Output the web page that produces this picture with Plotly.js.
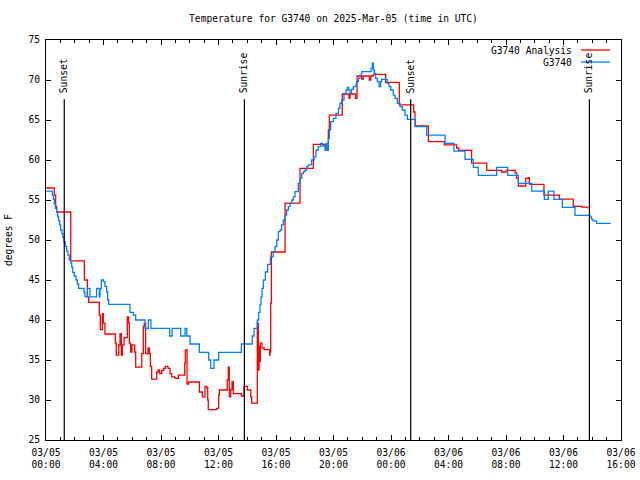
<!DOCTYPE html>
<html>
<head>
<meta charset="utf-8">
<script src="https://cdn.plot.ly/plotly-3.0.1.min.js"></script>
<style>html,body{margin:0;padding:0;background:#fff}#chart{width:640px;height:480px}</style>
</head>
<body>
<div id="chart"></div>
<script>
// Hours after 2025-03-05 00:00 UTC, and temperatures (degrees F)
const analysisHours = [0, 0.58, 0.67, 0.74, 1.72, 2.67, 2.88, 2.97, 3.71, 3.78, 3.92, 3.99, 4.10, 4.82, 4.89, 5.06, 5.15, 5.24, 5.31, 5.43, 5.66, 5.75, 5.80, 5.89, 5.98, 6.17, 6.24, 6.66, 6.77, 6.84, 6.93, 7.10, 7.19, 7.26, 7.35, 7.70, 7.81, 7.91, 8.05, 8.19, 8.30, 8.49, 8.63, 8.74, 8.97, 9.21, 9.65, 9.69, 9.81, 9.92, 10.67, 10.88, 11.06, 11.18, 11.25, 11.29, 11.87, 12.01, 12.06, 12.61, 12.68, 12.75, 12.85, 12.94, 13.03, 13.59, 13.77, 14.01, 14.24, 14.31, 14.70, 14.77, 14.82, 14.84, 14.91, 15.03, 15.17, 15.56, 15.58, 15.63, 15.68, 16.63, 17.67, 18.60, 19.53, 19.64, 19.71, 20.61, 21.08, 21.15, 21.53, 21.64, 21.96, 22.07, 22.49, 22.59, 22.77, 23.63, 24.58, 25.58, 25.67, 26.60, 27.71, 28.57, 28.70, 29.61, 30.66, 31.70, 32.00, 32.63, 32.74, 32.86, 33.37, 33.55, 33.62, 33.67, 34.64, 35.71, 36.68, 37.26, 37.68];
const analysisTemps = [56.5, 55.6, 54.2, 53.5, 47.4, 45.0, 42.9, 42.2, 40.6, 38.8, 40.8, 39.6, 38.25, 37.1, 35.6, 36.9, 38.3, 35.6, 36.9, 37.8, 40.4, 39.6, 37.1, 36.0, 36.9, 36.0, 34.1, 35.8, 39.2, 39.6, 35.8, 36.5, 35.8, 34.2, 32.6, 33.5, 33.75, 33.3, 33.7, 33.96, 34.2, 33.96, 33.3, 32.9, 32.7, 33.1, 34.6, 36.25, 32.0, 32.25, 31.0, 30.4, 31.7, 31.5, 30.0, 28.8, 28.95, 30.6, 31.25, 32.5, 34.1, 30.4, 31.3, 32.3, 30.8, 30.5, 31.7, 31.25, 30.4, 29.6, 39.6, 33.75, 36.7, 34.8, 37.1, 36.5, 36.3, 35.6, 36.0, 42.1, 48.5, 54.6, 58.96, 61.96, 61.25, 63.75, 65.6, 68.25, 67.7, 68.25, 67.7, 70.5, 70.1, 70.5, 70.0, 70.5, 70.7, 69.7, 66.9, 66.0, 64.25, 62.3, 61.9, 61.5, 61.2, 59.6, 58.7, 58.5, 58.7, 58.4, 57.7, 56.75, 57.7, 57.8, 57.1, 56.96, 55.6, 55.1, 54.2, 54.1, 53.96];

const stationHours = [0, 0.44, 0.51, 0.58, 0.65, 0.74, 0.81, 0.88, 0.95, 1.02, 1.11, 1.18, 1.25, 1.34, 1.44, 1.53, 1.62, 1.72, 1.79, 1.86, 1.97, 2.09, 2.18, 2.27, 2.64, 2.71, 2.88, 3.06, 3.52, 3.71, 3.76, 3.85, 3.99, 4.10, 4.22, 4.29, 4.36, 5.84, 6.08, 6.24, 6.89, 7.12, 7.30, 8.60, 8.77, 9.37, 9.67, 9.79, 10.02, 10.67, 11.32, 11.46, 11.69, 12.01, 13.59, 14.35, 14.47, 14.70, 14.79, 14.89, 14.96, 15.03, 15.12, 15.26, 15.42, 15.61, 15.81, 15.93, 16.05, 16.16, 16.28, 16.39, 16.51, 16.63, 16.74, 16.86, 16.97, 17.09, 17.21, 17.32, 17.55, 17.67, 17.79, 17.90, 18.02, 18.13, 18.25, 18.48, 18.64, 18.78, 18.94, 19.11, 19.25, 19.41, 19.48, 19.53, 19.64, 19.71, 19.80, 19.99, 20.17, 20.34, 20.45, 20.57, 20.73, 20.87, 20.96, 21.06, 21.15, 21.26, 21.38, 21.57, 21.61, 21.73, 21.84, 21.96, 22.61, 22.70, 22.77, 22.84, 22.93, 23.05, 23.17, 23.28, 23.35, 23.74, 23.86, 23.98, 24.16, 24.28, 24.44, 24.63, 24.79, 24.97, 25.14, 25.70, 26.48, 27.76, 28.38, 29.15, 29.73, 30.07, 31.35, 32.12, 32.86, 33.79, 34.67, 34.94, 35.34, 35.92, 36.80, 37.85, 37.95, 38.05, 38.30, 39.28];
const stationTemps = [56.1, 55.6, 55.1, 54.5, 53.96, 53.46, 52.9, 52.4, 51.9, 51.25, 50.8, 50.3, 49.8, 49.2, 48.6, 48.1, 47.5, 47.1, 46.6, 45.96, 45.5, 45.0, 44.5, 43.96, 43.46, 42.9, 43.96, 42.9, 43.96, 42.9, 43.96, 45.0, 44.8, 44.2, 43.5, 42.5, 41.96, 40.96, 40.6, 40.0, 38.96, 40.0, 38.96, 38.0, 38.96, 38.0, 38.96, 38.0, 37.0, 35.96, 35.0, 33.96, 35.0, 35.96, 37.0, 38.0, 38.96, 40.0, 40.96, 41.96, 42.9, 43.96, 45.0, 46.0, 46.96, 47.9, 48.54, 49.17, 50.0, 51.04, 51.25, 51.9, 52.5, 53.1, 53.75, 54.17, 54.58, 55.0, 55.4, 56.04, 57.08, 57.7, 58.3, 58.54, 58.75, 59.17, 59.4, 60.0, 60.4, 61.25, 61.67, 62.08, 61.75, 61.25, 62.08, 61.25, 62.7, 63.75, 64.8, 65.2, 65.8, 66.46, 67.08, 67.5, 68.33, 68.75, 69.08, 68.75, 68.33, 68.83, 69.17, 69.58, 69.8, 70.2, 70.6, 71.04, 71.46, 72.1, 71.25, 70.83, 70.2, 69.8, 69.17, 69.8, 70.08, 69.58, 69.17, 68.75, 68.1, 67.7, 67.08, 66.67, 66.25, 65.6, 65.08, 64.17, 63.1, 62.08, 61.1, 60.08, 59.08, 58.08, 59.08, 58.08, 57.08, 56.1, 55.08, 56.1, 55.08, 54.08, 53.08, 52.9, 52.6, 52.4, 52.08, 52.08];

const sunEventHours = [1.27, 13.80, 25.37, 37.80];
const sunEventLabels = ["Sunset", "Sunrise", "Sunset", "Sunrise"];
const seriesNames = ["G3740 Analysis", "G3740"];
const seriesColors = ["#ff0000", "#0080ff"];

const BASE = Date.UTC(2025, 2, 5, 0, 0, 0);
function toDate(h) {
  return new Date(BASE + Math.round(h * 3600000)).toISOString().slice(0, 19).replace('T', ' ');
}

const MONO = "DejaVu Sans Mono, monospace";
const fsz = 9.6;

const traces = [
  {x: analysisHours.map(toDate), y: analysisTemps, name: seriesNames[0], type: 'scatter', mode: 'lines',
   line: {color: seriesColors[0], width: 1.3, shape: 'hv'}},
  {x: stationHours.map(toDate), y: stationTemps, name: seriesNames[1], type: 'scatter', mode: 'lines',
   line: {color: seriesColors[1], width: 1.3, shape: 'hv'}}
];

const shapes = [];
const annotations = [];
sunEventHours.forEach((h, i) => {
  shapes.push({type: 'line', xref: 'x', yref: 'y', x0: toDate(h), x1: toDate(h), y0: 25, y1: 67.6,
    line: {color: '#000', width: 1.2}});
  annotations.push({x: toDate(h), y: 68.2, xref: 'x', yref: 'y', text: sunEventLabels[i], showarrow: false,
    textangle: -90, xanchor: 'center', yanchor: 'bottom', borderpad: 0,
    font: {family: MONO, size: fsz, color: '#000'}});
});

// legend drawn gnuplot-style: text right-aligned, sample line to its right
seriesNames.forEach((n, i) => {
  const yp = 0.975 - i * 0.03;
  annotations.push({x: 0.9165, y: yp, xref: 'paper', yref: 'paper', text: n, showarrow: false,
    xanchor: 'right', yanchor: 'middle', borderpad: 0, font: {family: MONO, size: fsz, color: '#000'}});
  shapes.push({type: 'line', xref: 'paper', yref: 'paper', x0: 0.9304, x1: 0.9809, y0: yp, y1: yp,
    line: {color: seriesColors[i], width: 1.3}});
});

const layout = {
  width: 640, height: 480,
  margin: {l: 46, r: 19, t: 40, b: 40, pad: 0},
  paper_bgcolor: '#fff', plot_bgcolor: '#fff',
  showlegend: false,
  font: {family: MONO, size: fsz, color: '#000'},
  title: {text: 'Temperature for G3740 on 2025-Mar-05 (time in UTC)', x: 0.5, xref: 'paper',
    y: 1 - 19 / 480, yref: 'container', xanchor: 'center', yanchor: 'middle',
    font: {family: MONO, size: fsz, color: '#000'}},
  xaxis: {
    type: 'date', range: [toDate(0), toDate(40)],
    tick0: toDate(0), dtick: 4 * 3600000, tickformat: '%m/%d<br>%H:%M',
    ticks: 'inside', ticklen: 5, tickcolor: '#000', tickwidth: 1,
    minor: {dtick: 3600000, ticks: 'inside', ticklen: 3, tickcolor: '#000', showgrid: false},
    showline: true, linecolor: '#000', linewidth: 1, mirror: 'ticks',
    showgrid: false, zeroline: false, ticklabelstandoff: 3,
    tickfont: {family: MONO, size: fsz, color: '#000'}
  },
  yaxis: {
    range: [25, 75], dtick: 5, tick0: 25,
    ticks: 'inside', ticklen: 5, tickcolor: '#000', tickwidth: 1,
    showline: true, linecolor: '#000', linewidth: 1, mirror: 'ticks',
    showgrid: false, zeroline: false, ticklabelstandoff: 3,
    tickfont: {family: MONO, size: fsz, color: '#000'},
    title: {text: 'degrees F', standoff: 14, font: {family: MONO, size: fsz, color: '#000'}}
  },
  shapes: shapes,
  annotations: annotations
};

Plotly.newPlot('chart', traces, layout, {displayModeBar: false, staticPlot: true});
</script>
</body>
</html>
